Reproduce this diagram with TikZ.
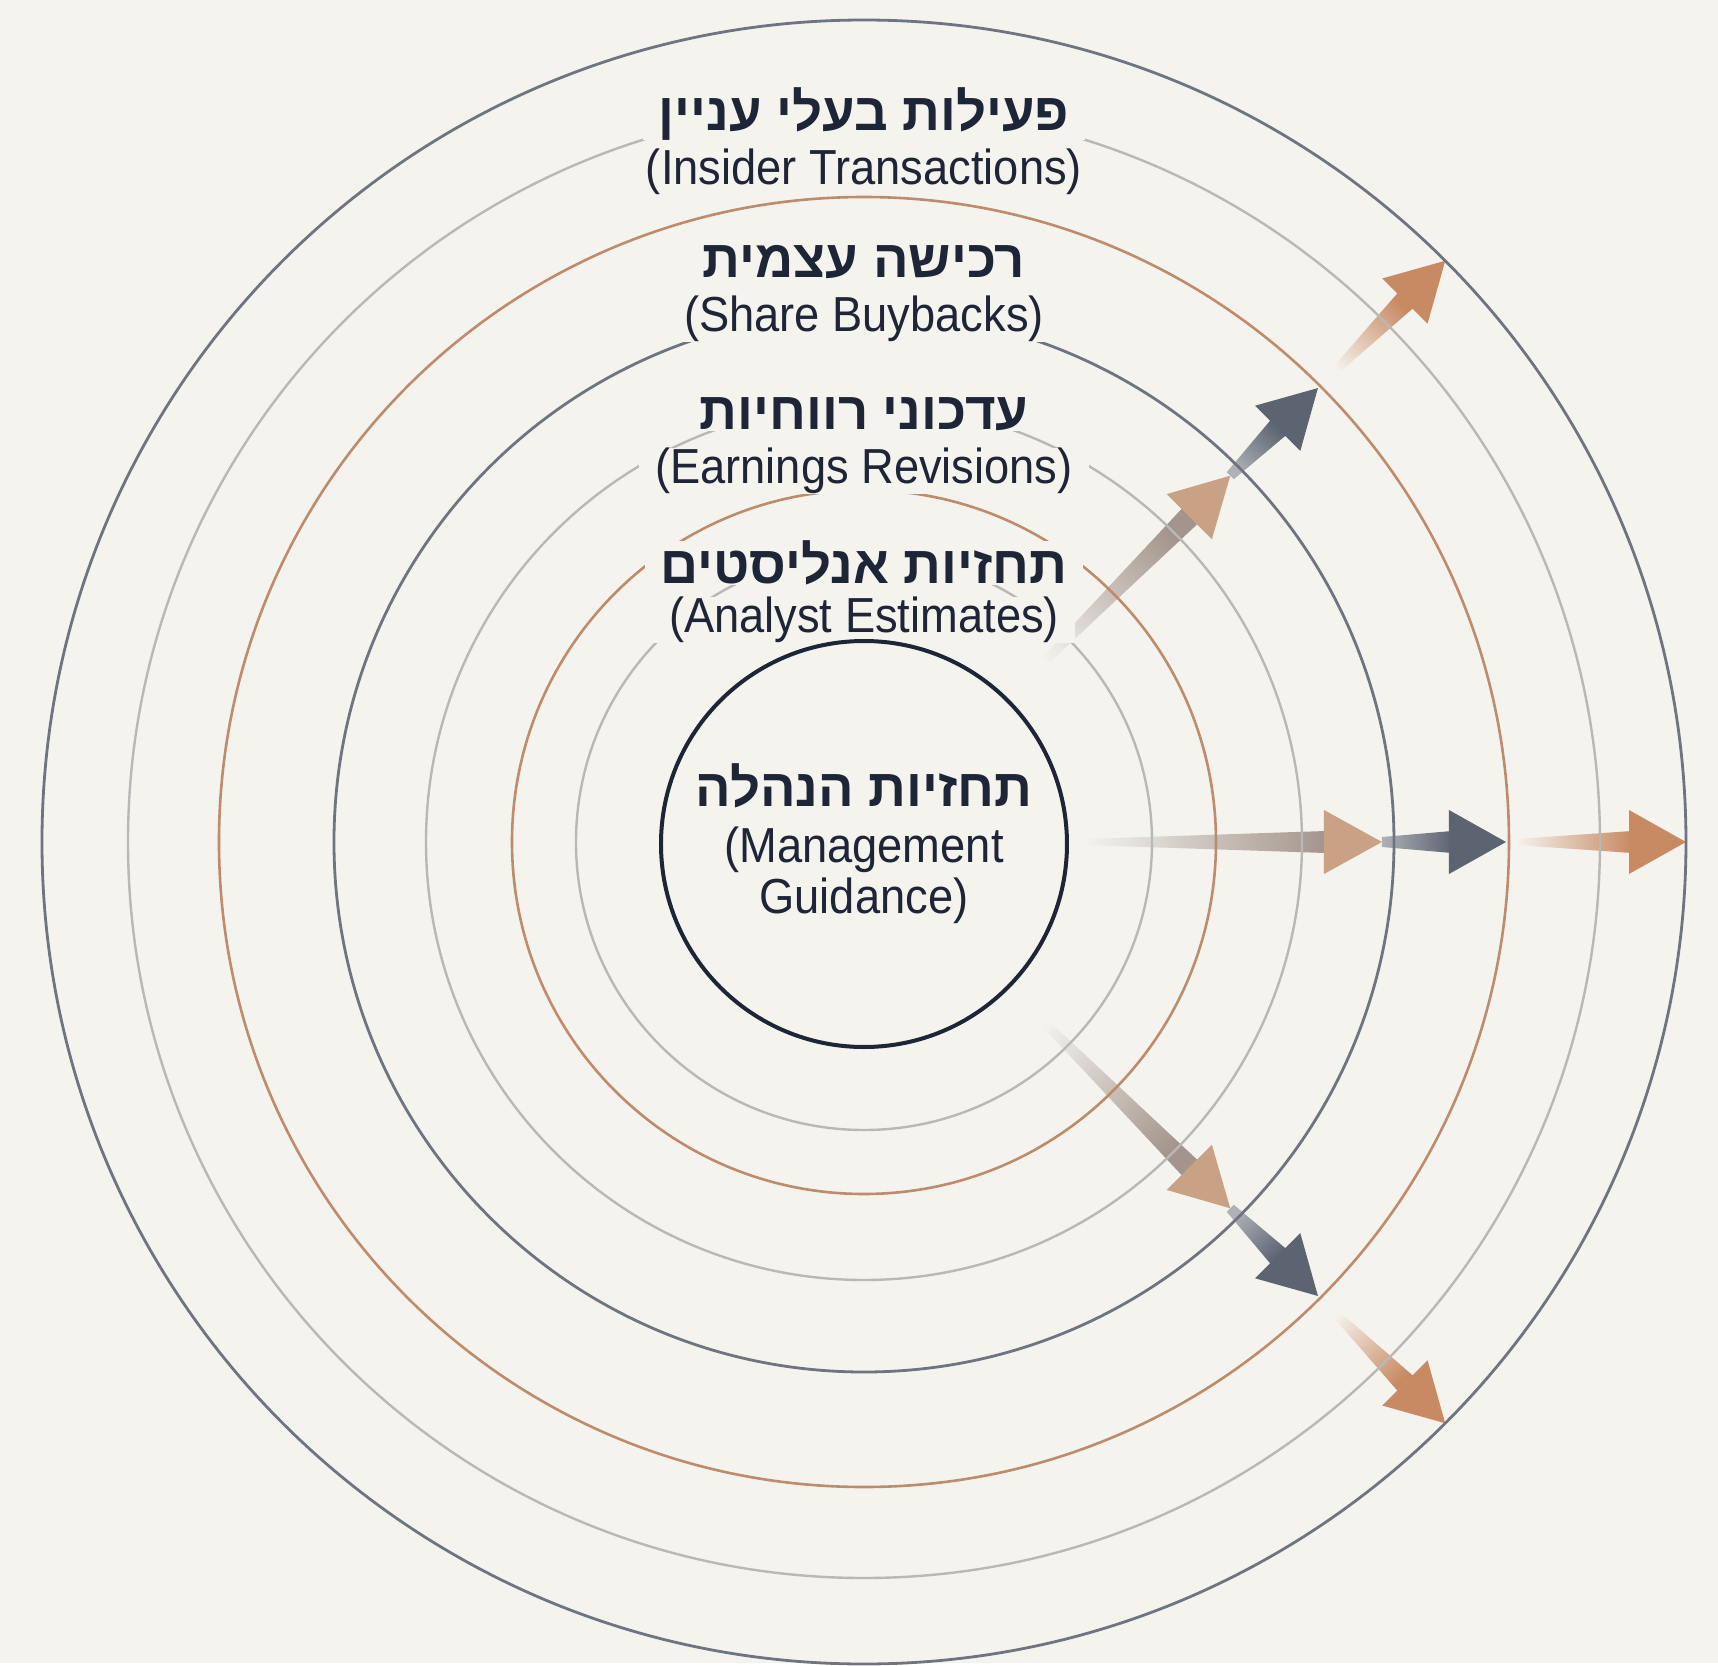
\documentclass[tikz,border=0pt]{standalone}
\usepackage{fontspec}
\setmainfont[FakeStretch=0.92]{Liberation Sans}
\newfontfamily\hebfont[Script=Hebrew]{Liberation Sans}
\TeXXeTstate=1
\definecolor{bg}{HTML}{F4F3EE}
\definecolor{ink}{HTML}{1E2536}
\definecolor{slate}{HTML}{6E7580}
\definecolor{lightring}{HTML}{B8B9B7}
\definecolor{copper}{HTML}{BE8C6C}
\definecolor{tan}{HTML}{C9A286}
\definecolor{taupe}{HTML}{A3958B}
\definecolor{steel}{HTML}{5C6471}
\definecolor{mist}{HTML}{AEB1B6}
\definecolor{rust}{HTML}{C88A63}
\tikzset{
  heb/.style={font=\hebfont\bfseries\fontsize{15}{18}\selectfont, text=ink, fill=bg, inner xsep=1.6mm, inner ysep=0mm},
  eng/.style={font=\fontsize{14}{16}\selectfont, text=ink, fill=bg, inner xsep=1.6mm, inner ysep=0mm},
}
\begin{document}
\begin{tikzpicture}[x=0.1mm, y=0.1mm]
  \fill[bg] (-864,-821) rectangle (854,842);
  %% arrows
  \foreach \a/\s in {45/-45, 0/-90, -45/-135}{
    \begin{scope}[rotate=\a]
      \shade[bottom color=bg, top color=taupe, shading angle=\s] (220,-3) -- (462,-11) -- (462,11) -- (220,3) -- cycle;
      \fill[tan] (460,-32) -- (518,0) -- (460,32) -- cycle;
      \shade[bottom color=mist, top color=steel, shading angle=\s] (518,-5) -- (588,-11) -- (588,11) -- (518,5) -- cycle;
      \fill[steel] (585,-32) -- (642,0) -- (585,32) -- cycle;
      \shade[bottom color=bg, top color=rust, shading angle=\s] (652,-3) -- (768,-11) -- (768,11) -- (652,3) -- cycle;
      \fill[rust] (765,-32) -- (822,0) -- (765,32) -- cycle;
    \end{scope}
  }
  %% rings
  \foreach \r/\c/\w in {288/lightring/0.24, 352/copper/0.26, 438/lightring/0.24, 530/slate/0.28,
                        645/copper/0.26, 736/lightring/0.24, 822/slate/0.28}
    \draw[draw=\c, line width=\w mm] (0,0) circle[radius=\r];
  %% labels
  \node[heb] (insH) at (0,728) {\beginR פעילות בעלי עניין\endR};
  \node[eng] (insE) at (0,670) {(Insider Transactions)};
  \node[heb] (buyH) at (0,580) {\beginR רכישה עצמית\endR};
  \node[eng] (buyE) at (0,523) {(Share Buybacks)};
  \node[heb] (revH) at (0,428) {\beginR עדכוני רווחיות\endR};
  \node[eng] (revE) at (0,371) {(Earnings Revisions)};
  \node[heb] (anaH) at (0,279) {\beginR תחזיות אנליסטים\endR};
  \node[eng] (anaE) at (0,222) {(Analyst Estimates)};
  %% centre
  \node[circle, draw=ink, line width=0.4mm, fill=bg, minimum size=40.6mm, inner sep=0,
        align=center, text=ink, font=\fontsize{14}{14.5}\selectfont] (mgmt) at (0,-2)
    {{\hebfont\bfseries\fontsize{15}{18}\selectfont\beginR תחזיות הנהלה\endR}\\[0.5mm](Management\\Guidance)};
\end{tikzpicture}
\end{document}
